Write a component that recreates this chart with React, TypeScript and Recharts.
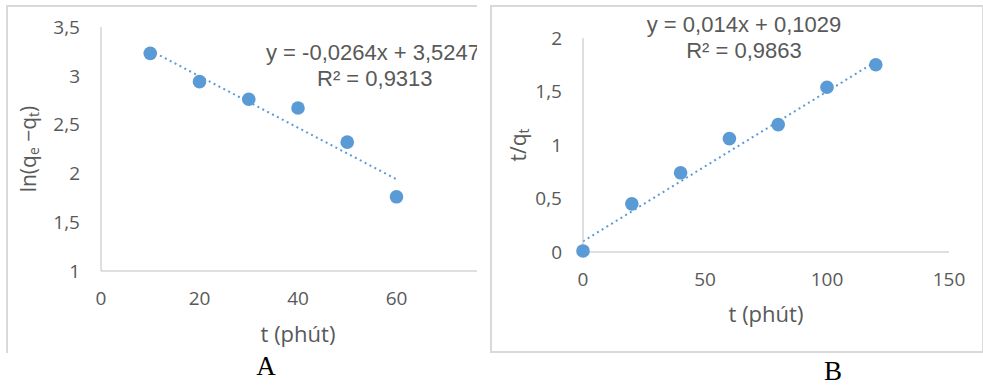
import { ComposedChart, Scatter, Line, XAxis, YAxis, Label } from 'recharts'

// chart A: ln(qe - qt) vs t
const timeA = [10, 20, 30, 40, 50, 60]
const lnA = [3.23, 2.94, 2.76, 2.67, 2.32, 1.76]
const trendTimeA = [10, 60]
const trendLnA = [3.26, 1.94]
const ticksXA = [0, 20, 40, 60]
const ticksYA = [1, 1.5, 2, 2.5, 3, 3.5]

// chart B: t/qt vs t
const timeB = [0, 20, 40, 60, 80, 100, 120]
const ratioB = [0.01, 0.45, 0.74, 1.06, 1.19, 1.54, 1.75]
const trendTimeB = [0, 120]
const trendRatioB = [0.1, 1.78]
const ticksXB = [0, 50, 100, 150]
const ticksYB = [0, 0.5, 1, 1.5, 2]

const FONT = '"Open Sans", "Liberation Sans", sans-serif'
const EQ_FONT = '"Liberation Sans", Arial, sans-serif'
const GREY = '#595959'
const BLUE = '#5B9BD5'
const AXIS = '#bfbfbf'

const comma = (v: number) => String(v).replace('.', ',')

const pointsA = timeA.map((t, i) => ({ t, y: lnA[i] }))
const trendA = trendTimeA.map((t, i) => ({ t, y: trendLnA[i] }))
const pointsB = timeB.map((t, i) => ({ t, y: ratioB[i] }))
const trendB = trendTimeB.map((t, i) => ({ t, y: trendRatioB[i] }))

const tickStyle = { fill: GREY, fontSize: 19, fontFamily: FONT }

const YTitle = ({ viewBox, sub }: any) => {
  const cx = viewBox.x + 28
  const cy = viewBox.y + viewBox.height / 2
  return (
    <text
      x={cx}
      y={cy}
      transform={`rotate(-90 ${cx} ${cy})`}
      textAnchor="middle"
      dominantBaseline="central"
      fill={GREY}
      fontSize={21}
      fontFamily={FONT}
    >
      {sub === 'A' ? (
        <>
          ln(q<tspan fontSize={14} dy={5}>e</tspan>
          <tspan dy={-5}> −q</tspan>
          <tspan fontSize={14} dy={5}>t</tspan>
          <tspan dy={-5}>)</tspan>
        </>
      ) : (
        <>
          t/q<tspan fontSize={14} dy={5}>t</tspan>
        </>
      )}
    </text>
  )
}

const abs = (left: number, top: number, extra: any = {}) => ({
  position: 'absolute' as const,
  left,
  top,
  ...extra,
})

const eqStyle = { fontFamily: EQ_FONT, fontSize: 22, color: GREY, whiteSpace: 'nowrap', lineHeight: '25px' }

export default function App() {
  return (
    <div style={{ position: 'absolute', left: 0, top: 0, width: 983, height: 388, background: '#fff', overflow: 'hidden' }}>
      {/* panel A, cropped on the right */}
      <div style={abs(0, 0, { width: 477, height: 388, overflow: 'hidden' })}>
        <div style={abs(6, 5, { width: 480, height: 346, borderLeft: '2px solid #d9d9d9', borderTop: '2px solid #d9d9d9' })} />
        <ComposedChart
          width={520}
          height={388}
          margin={{ top: 27, right: 25, bottom: 0, left: 0 }}
          style={{ position: 'absolute', left: 0, top: 0 }}
        >
          <XAxis
            dataKey="t"
            type="number"
            domain={[0, 80]}
            ticks={ticksXA}
            height={117}
            stroke={AXIS}
            tickLine={false}
            tickSize={0}
            tickMargin={21}
            tick={tickStyle}
            allowDuplicatedCategory={false}
          >
            <Label value="t (phút)" position="insideBottom" offset={46} fill={GREY} fontSize={22} fontFamily={FONT} />
          </XAxis>
          <YAxis
            dataKey="y"
            type="number"
            domain={[1, 3.5]}
            ticks={ticksYA}
            width={101}
            stroke={AXIS}
            tickLine={false}
            tickSize={0}
            tickMargin={21}
            tick={tickStyle}
            tickFormatter={comma}
          >
            <Label content={(p: any) => <YTitle {...p} sub="A" />} />
          </YAxis>
          <Line
            data={trendA}
            dataKey="y"
            stroke={BLUE}
            strokeWidth={2}
            strokeDasharray="2 3.5"
            dot={false}
            isAnimationActive={false}
          />
          <Scatter data={pointsA} dataKey="y" fill={BLUE} shape={(p: any) => <circle cx={p.cx} cy={p.cy} r={6.8} fill={BLUE} />} isAnimationActive={false} />
        </ComposedChart>
        <div style={abs(266, 40, eqStyle)}>y = -0,0264x + 3,5247</div>
        <div style={abs(317, 66, eqStyle)}>R² = 0,9313</div>
      </div>
      <div style={abs(246, 351, { width: 40, textAlign: 'center', fontFamily: '"Liberation Serif", serif', fontSize: 27, color: '#000' })}>A</div>

      {/* panel B */}
      <div style={abs(490, 5, { width: 490, height: 344, border: '2px solid #d9d9d9' })} />
      <ComposedChart
        width={493}
        height={388}
        margin={{ top: 38, right: 34, bottom: 0, left: 0 }}
        style={{ position: 'absolute', left: 490, top: 0 }}
      >
        <XAxis
          dataKey="t"
          type="number"
          domain={[0, 150]}
          ticks={ticksXB}
          height={136}
          stroke={AXIS}
          tickLine={false}
          tickSize={0}
          tickMargin={21}
          tick={tickStyle}
          allowDuplicatedCategory={false}
        >
          <Label value="t (phút)" position="insideBottom" offset={66} fill={GREY} fontSize={22} fontFamily={FONT} />
        </XAxis>
        <YAxis
          dataKey="y"
          type="number"
          domain={[0, 2]}
          ticks={ticksYB}
          width={93}
          stroke={AXIS}
          tickLine={false}
          tickSize={0}
          tickMargin={21}
          tick={tickStyle}
          tickFormatter={comma}
        >
          <Label content={(p: any) => <YTitle {...p} sub="B" />} />
        </YAxis>
        <Line
          data={trendB}
          dataKey="y"
          stroke={BLUE}
          strokeWidth={2}
          strokeDasharray="2 3.5"
          dot={false}
          isAnimationActive={false}
        />
        <Scatter data={pointsB} dataKey="y" fill={BLUE} shape={(p: any) => <circle cx={p.cx} cy={p.cy} r={6.8} fill={BLUE} />} isAnimationActive={false} />
      </ComposedChart>
      <div style={abs(634, 12, { ...eqStyle, width: 220, textAlign: 'center' })}>y = 0,014x + 0,1029</div>
      <div style={abs(634, 38, { ...eqStyle, width: 220, textAlign: 'center' })}>R² = 0,9863</div>
      <div style={abs(813, 356, { width: 40, textAlign: 'center', fontFamily: '"Liberation Serif", serif', fontSize: 27, color: '#000' })}>B</div>
    </div>
  )
}
